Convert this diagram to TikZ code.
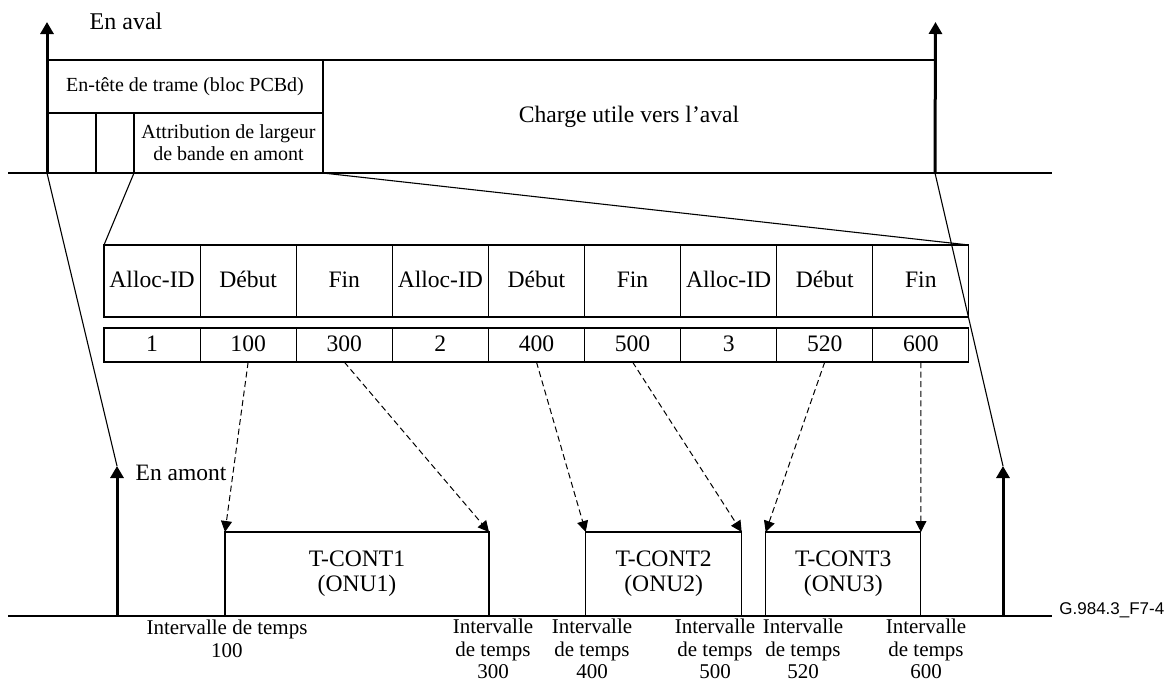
\documentclass[tikz,border=0pt]{standalone}
\usepackage{fontspec}
\setmainfont{Liberation Serif}
\newfontfamily\labelsans{Liberation Sans}
\usetikzlibrary{arrows.meta}
\begin{document}
\begin{tikzpicture}[x=0.5pt,y=-0.5pt,
  box/.style={draw, line width=0.55pt, inner sep=0pt, outer sep=0pt, anchor=north west, align=center},
  big/.style={font=\fontsize{11.8}{12.5}\selectfont},
  small/.style={font=\fontsize{10}{10.9}\selectfont},
  field/.style={text height=9pt, text depth=2.5pt},
  slot/.style={font=\fontsize{10.5}{11.3}\selectfont, align=center, inner sep=0pt},
  thin/.style={line width=0.55pt},
  bigarrow/.style={line width=1.5pt, -{Triangle[length=6pt,width=6.5pt]}},
  dasharrow/.style={line width=0.5pt, dash pattern=on 3pt off 1.8pt, -{Triangle[length=5.5pt,width=5.5pt]}},
]
\useasboundingbox (0,0) rectangle (1169,682);

% downstream frame: header and payload
\node[box, small, minimum width=138pt, minimum height=26.5pt] (hdr) at (47,60) {En-tête de trame (bloc PCBd)};
\node[box, minimum width=24.5pt, minimum height=30pt] (s1) at (47,113) {};
\node[box, minimum width=19pt, minimum height=30pt] (s2) at (96,113) {};
\node[box, small, minimum width=94.5pt, minimum height=30pt] (bw) at (134,113) {Attribution de largeur\\de bande en amont};
\node[box, big, minimum width=306pt, minimum height=56.5pt] (pay) at (323,60) {Charge utile vers l’aval};

% downstream time axis
\coordinate (dl) at (8,173);
\coordinate (dr) at (1052,173);
\draw[thin] (dl) -- (dr);
\coordinate (dtipL) at (47,22);
\coordinate (dtipR) at (935.5,22);
\draw[bigarrow] (s1.south west) -- (dtipL);
\draw[bigarrow] (pay.south east) -- (dtipR);
\node[font=\fontsize{12}{13}\selectfont, inner sep=0pt] (aval) at (126,21) {En aval};

% bandwidth map table
\foreach \h/\v [count=\k] in {Alloc-ID/1, Début/100, Fin/300, Alloc-ID/2, Début/400, Fin/500, Alloc-ID/3, Début/520, Fin/600} {
  \node[box, big, field, minimum width=48.05pt, minimum height=36pt] (h\k) at ({104+96.1*(\k-1)},245) {\h};
  \node[box, big, field, minimum width=48.05pt, minimum height=17pt] (v\k) at ({104+96.1*(\k-1)},328) {\v};
}
\draw[thin] (bw.south west) -- (h1.north west);
\draw[thin] (pay.south west) -- (h9.north east);

% upstream time axis
\coordinate (ul) at (8,616);
\coordinate (ur) at (1052,616);
\draw[thin] (ul) -- (ur);
\coordinate (ubL) at (117,616);
\coordinate (utipL) at (117,466);
\coordinate (ubR) at (1003,616);
\coordinate (utipR) at (1003,466);
\draw[bigarrow] (ubL) -- (utipL);
\draw[bigarrow] (ubR) -- (utipR);
\draw[thin] (s1.south west) -- (utipL);
\draw[thin] (pay.south east) -- (utipR);
\node[font=\fontsize{11.75}{13}\selectfont, inner sep=0pt] (amont) at (181,473) {En amont};

% upstream bursts
\node[box, big, minimum width=132pt, minimum height=42pt] (t1) at (225,532) {T-CONT1\\(ONU1)};
\node[box, big, minimum width=78pt, minimum height=42pt] (t2) at (585.7,532) {T-CONT2\\(ONU2)};
\node[box, big, minimum width=77.6pt, minimum height=42pt] (t3) at (765.7,532) {T-CONT3\\(ONU3)};

\draw[dasharrow] (v2.south) -- (t1.north west);
\draw[dasharrow] (v3.south) -- (t1.north east);
\draw[dasharrow] (v5.south) -- (t2.north west);
\draw[dasharrow] (v6.south) -- (t2.north east);
\draw[dasharrow] (v8.south) -- (t3.north west);
\draw[dasharrow] (v9.south) -- (t3.north east);

% time slot labels
\node[slot] (s100) at (227,639) {Intervalle de temps\\100};
\node[slot] (s300) at (493,649) {Intervalle\\de temps\\300};
\node[slot] (s400) at (592,649) {Intervalle\\de temps\\400};
\node[slot] (s500) at (715,649) {Intervalle\\de temps\\500};
\node[slot] (s520) at (803,649) {Intervalle\\de temps\\520};
\node[slot] (s600) at (926,649) {Intervalle\\de temps\\600};

\node[font=\labelsans\fontsize{8.5}{10}\selectfont, anchor=west, inner sep=0pt] (fig) at (1059,610) {G.984.3\_F7-4};
\end{tikzpicture}
\end{document}
